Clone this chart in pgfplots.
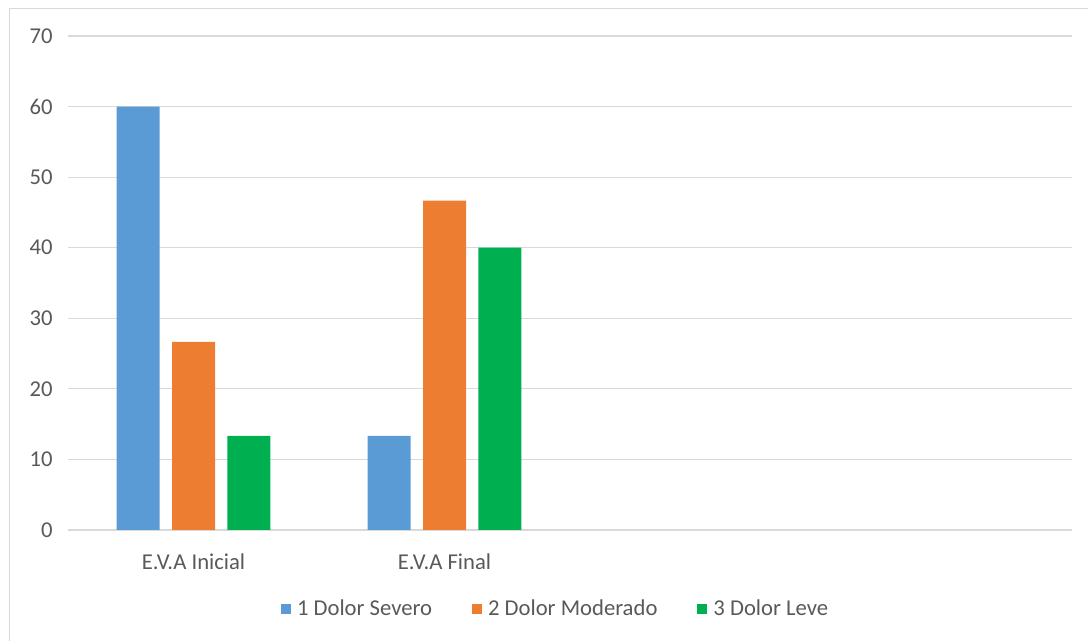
\documentclass[border=0pt]{standalone}
\usepackage{pgfplots}
\pgfplotsset{compat=1.18}
\usepackage{fontspec}
\setmainfont{Carlito}
\definecolor{cblue}{HTML}{5B9BD5}
\definecolor{corange}{HTML}{ED7D31}
\definecolor{cgreen}{HTML}{00B050}
\definecolor{cgrid}{HTML}{D9D9D9}
\definecolor{ctext}{HTML}{595959}
\definecolor{cborder}{HTML}{D9D9D9}
\begin{document}
\begin{tikzpicture}
\useasboundingbox (0,0) rectangle (816pt,480.75pt);
\draw[cborder, line width=0.75pt] (6.9pt,0) -- (6.9pt,474pt) -- (816pt,474pt);
\begin{axis}[
  at={(51pt,83.25pt)}, anchor=south west,
  scale only axis, width=753pt, height=370.5pt,
  ybar,
  xmin=-0.5, xmax=3.5, ymin=0, ymax=70,
  ytick={0,10,...,70},
  xtick={0,1}, xticklabels={E.V.A Inicial, E.V.A Final},
  axis line style={draw=none},
  major tick length=0pt,
  ymajorgrids, grid style={cgrid, line width=0.8pt},
  tick label style={font=\fontsize{17}{19}\selectfont, text=ctext},
  /pgf/number format/assume math mode=true,
  yticklabel style={xshift=-8pt},
  xticklabel style={yshift=-14pt},
  legend style={at={(0.486,-0.16)}, anchor=center, draw=none, fill=none,
    font=\fontsize{17}{19}\selectfont, text=ctext,
    /tikz/every even column/.append style={column sep=28pt}},
  legend columns=3,
  legend image code/.code={\fill[#1] (0pt,-3.75pt) rectangle (7.5pt,3.75pt); \path (10pt,0);},
  clip=false,
]
\addplot[fill=cblue, draw=none, bar width=32.25pt, bar shift=-41.6pt] coordinates {(0,60) (1,13.33)};
\addplot[fill=corange, draw=none, bar width=32.25pt, bar shift=0pt] coordinates {(0,26.67) (1,46.67)};
\addplot[fill=cgreen, draw=none, bar width=32.25pt, bar shift=41.6pt] coordinates {(0,13.33) (1,40)};
\legend{1 Dolor Severo, 2 Dolor Moderado, 3 Dolor Leve}
\end{axis}
\end{tikzpicture}
\end{document}
